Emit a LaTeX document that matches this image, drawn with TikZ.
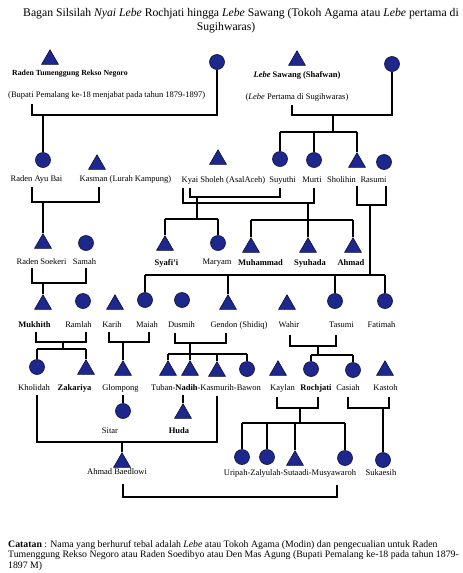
\documentclass[tikz,border=0pt]{standalone}
\usepackage{fontspec}
\setmainfont{Liberation Serif}
\usetikzlibrary{shapes.geometric,calc}
\definecolor{fillb}{RGB}{30,40,140}
\definecolor{edgeb}{RGB}{10,15,60}
\begin{document}
\begin{tikzpicture}[x=1pt,y=-1pt,
 male/.style={draw=edgeb, fill=fillb, line width=0.6pt, regular polygon, regular polygon sides=3, minimum size=19.5pt, inner sep=0pt, yshift=-2.5pt},
 female/.style={draw=edgeb, fill=fillb, line width=0.6pt, circle, minimum size=15pt, inner sep=0pt},
 lbl/.style={font=\fontsize{8.5}{10}\selectfont, inner sep=0pt},
 blbl/.style={font=\bfseries\fontsize{8.5}{10}\selectfont, inner sep=0pt},
 link/.style={line width=1.3pt, black},
 note/.style={font=\fontsize{9.8}{11}\selectfont, inner sep=0pt, anchor=west},
]
\useasboundingbox (0,0) rectangle (463,573);
\clip (0,0) rectangle (463,573);
\fill[white] (0,0) rectangle (463,573);

% title
\node[font=\fontsize{11.7}{13}\selectfont, inner sep=0pt] (title1) at (241,14) {Bagan Silsilah \textit{Nyai Lebe} Rochjati hingga \textit{Lebe} Sawang (Tokoh Agama atau \textit{Lebe} pertama di};
\node[font=\fontsize{11.7}{13}\selectfont, inner sep=0pt] (title2) at (226,28) {Sugihwaras)};

% row 1
\node[male] (rtrn) at (50,57) {};
\node[inner sep=0pt, font=\bfseries\fontsize{7.8}{9}\selectfont, anchor=west] (rtrnl) at (12,74) {Raden Tumenggung Rekso Negoro};
\node[lbl, anchor=west] (rtrnd) at (8,95) {(Bupati Pemalang ke-18 menjabat pada tahun 1879-1897)};
\node[female] (w1) at (217,62) {};
\node[male] (saw) at (297,58) {};
\node[blbl] (sawl) at (297,75) {\textit{Lebe} Sawang (Shafwan)};
\node[lbl] (sawd) at (297,97) {(\textit{Lebe} Pertama di Sugihwaras)};
\node[female] (w2) at (392,64) {};

% row 2
\node[female] (bai) at (43,160) {};
\node[lbl] (bail) at (36.5,179) {Raden Ayu Bai};
\node[male] (kasman) at (97,162) {};
\node[lbl] (kasmanl) at (125.5,179) {Kasman (Lurah Kampung)};
\node[male] (sholeh) at (218,157) {};
\node[lbl] (sholehl) at (223.5,180) {Kyai Sholeh (AsalAceh)};
\node[female] (suyuthi) at (280,159) {};
\node[lbl] (suyuthil) at (282.5,180) {Suyuthi};
\node[female] (murti) at (314,160) {};
\node[lbl] (murtil) at (312,180) {Murti};
\node[male] (sholihin) at (357,160) {};
\node[lbl] (sholihinl) at (341.5,180) {Sholihin};
\node[female] (rasumi) at (384,162) {};
\node[lbl] (rasumil) at (373.5,180) {Rasumi};

% row 3
\node[male] (soekeri) at (43,241) {};
\node[lbl] (soekeril) at (41.5,262) {Raden Soekeri};
\node[female] (samah) at (86,243) {};
\node[lbl] (samahl) at (84.5,262) {Samah};
\node[male] (syafii) at (165,243) {};
\node[blbl] (syafiil) at (166.5,263) {Syafi’i};
\node[female] (maryam) at (218,243) {};
\node[lbl] (maryaml) at (217,263) {Maryam};
\node[male] (muhammad) at (251,245) {};
\node[blbl] (muhammadl) at (260.5,263) {Muhammad};
\node[male] (syuhada) at (308,245) {};
\node[blbl] (syuhadal) at (310,263) {Syuhada};
\node[male] (ahmad) at (353,245) {};
\node[blbl] (ahmadl) at (351,263) {Ahmad};

% row 4
\node[male] (mukhith) at (43,302) {};
\node[blbl] (mukhithl) at (34.5,325) {Mukhith};
\node[female] (ramlah) at (83,301) {};
\node[lbl] (ramlahl) at (78.5,325) {Ramlah};
\node[male] (karih) at (115,302) {};
\node[lbl] (karihl) at (112,325) {Karih};
\node[female] (maiah) at (145,300) {};
\node[lbl] (maiahl) at (147,325) {Maiah};
\node[female] (dusmih) at (182,300) {};
\node[lbl] (dusmihl) at (181.5,325) {Dusmih};
\node[male] (gendon) at (228,302) {};
\node[lbl] (gendonl) at (239,325) {Gendon (Shidiq)};
\node[male] (wahir) at (287,302) {};
\node[lbl] (wahirl) at (289,325) {Wahir};
\node[female] (tasumi) at (335,301) {};
\node[lbl] (tasumil) at (341.5,325) {Tasumi};
\node[female] (fatimah) at (385,301) {};
\node[lbl] (fatimahl) at (381.5,325) {Fatimah};

% row 5
\node[female] (kholidah) at (37,367) {};
\node[lbl] (kholidahl) at (34,388) {Kholidah};
\node[male] (zakariya) at (86,367) {};
\node[blbl] (zakariyal) at (74.5,388) {Zakariya};
\node[male] (glompong) at (123,368) {};
\node[lbl] (glompongl) at (120.5,388) {Glompong};
\node[male] (tuban) at (168,368) {};
\node[male] (nadih) at (190,368) {};
\node[male] (kasmurih) at (217,369) {};
\node[female] (bawon) at (247,369) {};
\node[lbl] (tnkbl) at (206,388) {Tuban-\textbf{Nadih}-Kasmurih-Bawon};
\node[male] (kaylan) at (278,368) {};
\node[lbl] (kaylanl) at (282.5,388) {Kaylan};
\node[female] (rochjati) at (311,369) {};
\node[blbl] (rochjatil) at (316,388) {Rochjati};
\node[female] (casiah) at (353,370) {};
\node[lbl] (casiahl) at (348,388) {Casiah};
\node[male] (kastoh) at (385,368) {};
\node[lbl] (kastohl) at (385.5,388) {Kastoh};

% row 6
\node[female] (sitar) at (123,411) {};
\node[lbl] (sitarl) at (110,431) {Sitar};
\node[male] (huda) at (183,411) {};
\node[blbl] (hudal) at (179,431) {Huda};
\node[male] (baedlowi) at (122,460) {};
\node[lbl] (baedlowil) at (117,472) {Ahmad Baedlowi};
\node[female] (uripah) at (242,457) {};
\node[female] (zalyulah) at (267,457) {};
\node[male] (sutaadi) at (295,458) {};
\node[female] (musyawaroh) at (345,458) {};
\node[lbl] (uzsml) at (290,473) {Uripah-Zalyulah-Sutaadi-Musyawaroh};
\node[female] (sukaesih) at (383,460) {};
\node[lbl] (sukaesihl) at (381,473) {Sukaesih};

% ---- connectors ----
% Rekso Negoro marriage
\coordinate (a1) at (217,115); \coordinate (a2) at (32,115); \coordinate (a3) at (32,104);
\coordinate (a4) at (43,115);
\draw[link] (w1.south) -- (a1) -- (a2) -- (a3);
\draw[link] (a4) -- (bai.north);
% Sawang marriage
\coordinate (b1) at (392,115); \coordinate (b2) at (292,115); \coordinate (b3) at (292,105);
\coordinate (b4) at (333,115); \coordinate (b5) at (333,132);
\coordinate (b6) at (280,132); \coordinate (b7) at (357,132); \coordinate (b8) at (314,132);
\draw[link] (w2.south) -- (b1) -- (b2) -- (b3);
\draw[link] (b4) -- (b5);
\draw[link] (b6) -- (b7);
\draw[link] (b6) -- (suyuthi.north);
\draw[link] (b8) -- (murti.north);
\draw[link] (b7) -- (sholihin.north);
% Bai - Kasman
\coordinate (c1) at (32,187); \coordinate (c2) at (32,202); \coordinate (c3) at (99,202); \coordinate (c4) at (99,187);
\coordinate (c5) at (43,202);
\draw[link] (c1) -- (c2) -- (c3) -- (c4);
\draw[link] (c5) -- (soekeri.north);
% Sholeh - Suyuthi
\coordinate (d1) at (190,188); \coordinate (d2) at (190,197); \coordinate (d3) at (280,197); \coordinate (d4) at (280,188);
\draw[link] (d1) -- (d2) -- (d3) -- (d4);
\coordinate (d5) at (197,197); \coordinate (d6) at (197,219);
\coordinate (d7) at (165,219); \coordinate (d8) at (218,219);
\draw[link] (d5) -- (d6);
\draw[link] (d7) -- (d8);
\draw[link] (d7) -- (syafii.north);
\draw[link] (d8) -- (maryam.north);
% Sholeh - Murti
\coordinate (e1) at (183,188); \coordinate (e2) at (183,203); \coordinate (e3) at (314,203); \coordinate (e4) at (314,188);
\draw[link] (e1) -- (e2) -- (e3) -- (e4);
\coordinate (e5) at (308,203); \coordinate (e6) at (308,220);
\coordinate (e7) at (251,220); \coordinate (e8) at (353,220);
\draw[link] (e5) -- (e6);
\draw[link] (e7) -- (e8);
\draw[link] (e7) -- (muhammad.north);
\draw[link] (e6) -- (syuhada.north);
\draw[link] (e8) -- (ahmad.north);
% Sholihin - Rasumi
\coordinate (f1) at (357,186); \coordinate (f2) at (357,205); \coordinate (f3) at (386,205); \coordinate (f4) at (386,186);
\draw[link] (f1) -- (f2) -- (f3) -- (f4);
\coordinate (f5) at (370,205); \coordinate (f6) at (370,275);
\coordinate (f7) at (145,275); \coordinate (f8) at (385,275);
\coordinate (f9) at (228,275); \coordinate (f10) at (335,275);
\draw[link] (f5) -- (f6);
\draw[link] (f7) -- (f8);
\draw[link] (f7) -- (maiah.north);
\draw[link] (f9) -- (gendon.north);
\draw[link] (f10) -- (tasumi.north);
\draw[link] (f8) -- (fatimah.north);
% Soekeri - Samah
\coordinate (g1) at (32,268); \coordinate (g2) at (32,283); \coordinate (g3) at (86,283); \coordinate (g4) at (86,268);
\coordinate (g5) at (43,283);
\draw[link] (g1) -- (g2) -- (g3) -- (g4);
\draw[link] (g5) -- (mukhith.north);
% Mukhith - Ramlah
\coordinate (h1) at (36,332); \coordinate (h2) at (36,342); \coordinate (h3) at (86,342); \coordinate (h4) at (86,332);
\coordinate (h5) at (63,342); \coordinate (h6) at (63,349);
\coordinate (h7) at (37,349); \coordinate (h8) at (86,349);
\draw[link] (h1) -- (h2) -- (h3) -- (h4);
\draw[link] (h5) -- (h6);
\draw[link] (h7) -- (h8);
\draw[link] (h7) -- (kholidah.north);
\draw[link] (h8) -- (zakariya.north);
% Karih - Maiah
\coordinate (i1) at (109,332); \coordinate (i2) at (109,342); \coordinate (i3) at (149,342); \coordinate (i4) at (149,332);
\coordinate (i5) at (123,342);
\draw[link] (i1) -- (i2) -- (i3) -- (i4);
\draw[link] (i5) -- (glompong.north);
% Dusmih - Gendon
\coordinate (j1) at (175,333); \coordinate (j2) at (175,343); \coordinate (j3) at (226,343); \coordinate (j4) at (226,333);
\coordinate (j5) at (190,343); \coordinate (j6) at (190,354);
\coordinate (j7) at (168,354); \coordinate (j8) at (247,354); \coordinate (j9) at (217,354);
\draw[link] (j1) -- (j2) -- (j3) -- (j4);
\draw[link] (j5) -- (j6);
\draw[link] (j7) -- (j8);
\draw[link] (j7) -- (tuban.north);
\draw[link] (j6) -- (nadih.north);
\draw[link] (j9) -- (kasmurih.north);
\draw[link] (j8) -- (bawon.north);
% Wahir - Tasumi
\coordinate (k1) at (290,335); \coordinate (k2) at (290,346); \coordinate (k3) at (336,346); \coordinate (k4) at (336,335);
\coordinate (k5) at (318,346); \coordinate (k6) at (318,355);
\coordinate (k7) at (311,355); \coordinate (k8) at (353,355);
\draw[link] (k1) -- (k2) -- (k3) -- (k4);
\draw[link] (k5) -- (k6);
\draw[link] (k7) -- (k8);
\draw[link] (k7) -- (rochjati.north);
\draw[link] (k8) -- (casiah.north);
% Kholidah - Kasmurih
\coordinate (l1) at (37,395); \coordinate (l2) at (37,442); \coordinate (l3) at (217,442); \coordinate (l4) at (217,396);
\coordinate (l5) at (122,442);
\draw[link] (l1) -- (l2) -- (l3) -- (l4);
\draw[link] (l5) -- (baedlowi.north);
% Glompong - Sitar, Nadih - Huda
\coordinate (m1) at (123,395);
\draw[link] (m1) -- (sitar.north);
\coordinate (m2) at (183,395);
\draw[link] (m2) -- (huda.north);
% Kaylan - Rochjati
\coordinate (n1) at (277,397); \coordinate (n2) at (277,408); \coordinate (n3) at (318,408); \coordinate (n4) at (318,397);
\coordinate (n5) at (300,408); \coordinate (n6) at (300,423);
\coordinate (n7) at (242,423); \coordinate (n8) at (345,423);
\coordinate (n9) at (267,423); \coordinate (n10) at (295,423);
\draw[link] (n1) -- (n2) -- (n3) -- (n4);
\draw[link] (n5) -- (n6);
\draw[link] (n7) -- (n8);
\draw[link] (n7) -- (uripah.north);
\draw[link] (n9) -- (zalyulah.north);
\draw[link] (n10) -- (sutaadi.north);
\draw[link] (n8) -- (musyawaroh.north);
% Casiah - Kastoh
\coordinate (o1) at (348,397); \coordinate (o2) at (348,408); \coordinate (o3) at (389,408); \coordinate (o4) at (389,397);
\coordinate (o5) at (383,408);
\draw[link] (o1) -- (o2) -- (o3) -- (o4);
\draw[link] (o5) -- (sukaesih.north);
% Baedlowi - Musyawaroh
\coordinate (p1) at (123,484); \coordinate (p2) at (123,497); \coordinate (p3) at (337,497); \coordinate (p4) at (337,485);
\draw[link] (p1) -- (p2) -- (p3) -- (p4);

% note
\node[note] (note1) at (8,545) {\textbf{Catatan} : Nama yang berhuruf tebal adalah \textit{Lebe} atau Tokoh Agama (Modin) dan pengecualian untuk Raden};
\node[note] (note2) at (8,555.5) {Tumenggung Rekso Negoro atau Raden Soedibyo atau Den Mas Agung (Bupati Pemalang ke-18 pada tahun 1879-};
\node[note] (note3) at (8,566) {1897 M)};
\end{tikzpicture}
\end{document}
